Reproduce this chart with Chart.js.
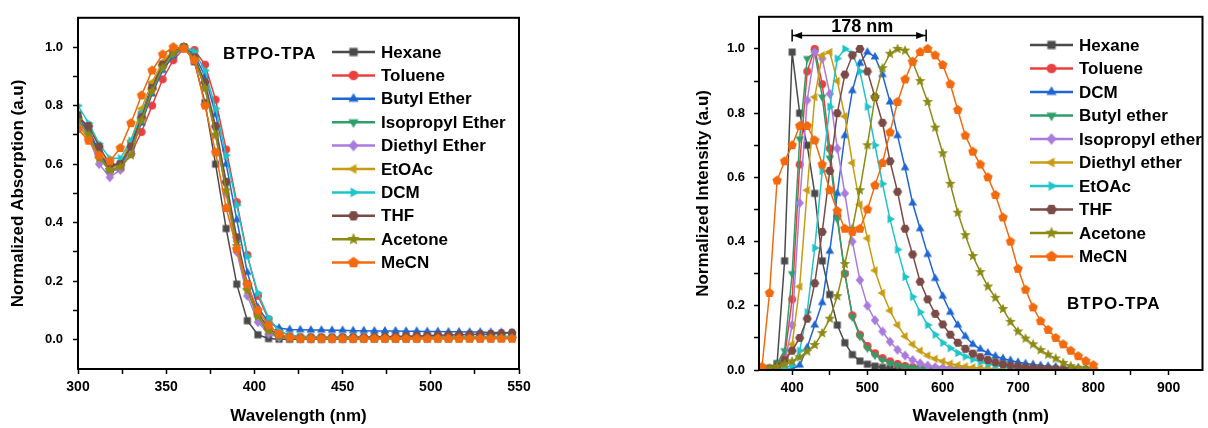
<!DOCTYPE html>
<html>
<head>
<meta charset="utf-8">
<script src="https://cdn.jsdelivr.net/npm/chart.js@4.4.1/dist/chart.umd.min.js"></script>
<style>
    html, body { margin: 0; padding: 0; background: #fff; width: 1208px; height: 428px; overflow: hidden; }
    #absBox { position: absolute; left: 0; top: 0; width: 600px; height: 428px; }
    #emBox { position: absolute; left: 600px; top: 0; width: 608px; height: 428px; }
</style>
</head>
<body>
<div id="absBox"><canvas id="absChart"></canvas></div>
<div id="emBox"><canvas id="emChart"></canvas></div>
<script>
// Absorption spectra (left panel), wavelength in nm
const absWavelengths = [300,306,312,318,324,330,336,342,348,354,360,366,372,378,384,390,396,402,408,414,420,426,432,438,444,450,456,462,468,474,480,486,492,498,504,510,516,522,528,534,540,546];
const absSolvents = ["Hexane", "Toluene", "Butyl Ether", "Isopropyl Ether", "Diethyl Ether", "EtOAc", "DCM", "THF", "Acetone", "MeCN"];
const absHexane = [0.77,0.72,0.64,0.59,0.60,0.67,0.77,0.87,0.94,0.98,1.00,0.95,0.81,0.60,0.38,0.19,0.065,0.017,0.004,0.002,0.002, 0.002,0.002,0.002,0.002,0.002,0.003,0.003,0.003,0.003,0.003,0.003,0.004,0.004,0.004,0.004,0.004,0.005,0.005,0.005,0.005,0.006];
const absToluene = [0.76,0.71,0.63,0.575,0.585,0.635,0.71,0.80,0.89,0.955,0.995,0.99,0.94,0.82,0.65,0.47,0.29,0.15,0.07,0.03,0.014, 0.010,0.010,0.009,0.009,0.009,0.008,0.008,0.008,0.008,0.008,0.008,0.008,0.008,0.008,0.008,0.008,0.009,0.009,0.009,0.010,0.010];
const absButylEther = [0.76,0.71,0.64,0.58,0.59,0.65,0.74,0.84,0.92,0.97,1.00,0.975,0.90,0.77,0.60,0.41,0.23,0.11,0.06,0.04,0.035, 0.034,0.033,0.033,0.032,0.032,0.031,0.031,0.030,0.030,0.030,0.029,0.029,0.028,0.028,0.027,0.027,0.026,0.026,0.025,0.025,0.024];
const absIsopropylEther = [0.75,0.70,0.63,0.575,0.59,0.65,0.75,0.85,0.93,0.975,1.00,0.965,0.87,0.72,0.53,0.33,0.17,0.07,0.025,0.010,0.006, 0.005,0.005,0.005,0.005,0.005,0.005,0.006,0.006,0.006,0.006,0.006,0.007,0.007,0.007,0.007,0.008,0.008,0.008,0.008,0.009,0.009];
const absDiethylEther = [0.74,0.69,0.60,0.555,0.58,0.65,0.76,0.86,0.94,0.985,1.00,0.96,0.86,0.70,0.50,0.30,0.15,0.06,0.02,0.008,0.005, 0.004,0.004,0.004,0.004,0.004,0.004,0.004,0.005,0.005,0.005,0.005,0.005,0.005,0.005,0.006,0.006,0.006,0.006,0.006,0.007,0.007];
const absEtOAc = [0.73,0.69,0.62,0.58,0.60,0.68,0.79,0.88,0.95,0.99,1.00,0.96,0.86,0.70,0.51,0.31,0.17,0.08,0.035,0.015,0.008, 0.006,0.006,0.006,0.006,0.006,0.006,0.006,0.006,0.006,0.007,0.007,0.007,0.007,0.007,0.007,0.007,0.008,0.008,0.008,0.008,0.008];
const absDCM = [0.80,0.74,0.67,0.62,0.62,0.68,0.77,0.86,0.93,0.98,1.00,0.985,0.92,0.79,0.63,0.46,0.285,0.16,0.075,0.03,0.015, 0.012,0.011,0.010,0.010,0.010,0.010,0.010,0.010,0.010,0.010,0.010,0.010,0.010,0.010,0.010,0.011,0.011,0.011,0.012,0.012,0.012];
const absTHF = [0.76,0.73,0.66,0.60,0.60,0.66,0.76,0.86,0.94,0.985,1.00,0.965,0.88,0.73,0.54,0.35,0.19,0.09,0.04,0.015,0.006, 0.005,0.005,0.006,0.006,0.007,0.008,0.008,0.009,0.010,0.011,0.012,0.013,0.014,0.015,0.016,0.017,0.018,0.019,0.020,0.022,0.024];
const absAcetone = [0.75,0.70,0.62,0.58,0.59,0.63,0.75,0.85,0.93,0.98,1.00,0.96,0.86,0.70,0.51,0.32,0.17,0.08,0.03,0.012,0.005, 0.003,0.003,0.002,0.003,0.003,0.002,0.003,0.003,0.004,0.003,0.003,0.003,0.004,0.003,0.003,0.004,0.003,0.003,0.004,0.004,0.003];
const absMeCN = [0.72,0.68,0.63,0.61,0.655,0.74,0.835,0.92,0.975,1.00,0.995,0.955,0.80,0.64,0.45,0.31,0.19,0.10,0.05,0.02,0.008, 0.004,0.004,0.004,0.004,0.004,0.004,0.004,0.004,0.004,0.004,0.004,0.004,0.004,0.004,0.004,0.004,0.004,0.004,0.004,0.004,0.004];
const absXTicks = [300,325,350,375,400,425,450,475,500,525,550];
const absYTicks = [0,0.1,0.2,0.3,0.4,0.5,0.6,0.7,0.8,0.9,1.0];

// Emission spectra (right panel)
const emWavelengths = [360,370,380,390,400,410,420,430,440,450,460,470,480,490,500,510,520,530,540,550,560,570,580,590,600,610,620,630,640,650,660,670,680,690,700,710,720,730,740,750,760,770,780,790,800];
const emSolvents = ["Hexane", "Toluene", "DCM", "Butyl ether", "Isopropyl ether", "Diethyl ether", "EtOAc", "THF", "Acetone", "MeCN"];
const emHexane = [0,0.003,0.02,0.34,0.99,0.80,0.70,0.55,0.34,0.235,0.14,0.085,0.048,0.028,0.018,0.012,0.008,0.005,0.003,0.002,0.002,0.001,0.001,0.001];
const emToluene = [0,0,0.002,0.04,0.22,0.64,0.93,1.00,0.89,0.69,0.48,0.30,0.17,0.11,0.075,0.052,0.037,0.027,0.019,0.013,0.009,0.006,0.004,0.003,0.002,0.002,0.001,0.001];
const emDCM = [0,0,0,0.002,0.004,0.015,0.07,0.14,0.21,0.37,0.55,0.73,0.87,0.955,0.99,0.975,0.92,0.835,0.73,0.63,0.52,0.44,0.36,0.285,0.23,0.18,0.14,0.105,0.08,0.065,0.053,0.043,0.036,0.03,0.024,0.02,0.017,0.014,0.012,0.01,0.008,0.006,0.005,0.004,0.003];
const emButylEther = [0,0.002,0.02,0.06,0.30,0.72,0.97,0.99,0.85,0.66,0.47,0.30,0.165,0.105,0.068,0.046,0.032,0.022,0.015,0.01,0.007,0.005,0.003,0.002,0.002,0.001,0.001,0.001];
const emIsopropylEther = [0,0,0.003,0.02,0.14,0.52,0.84,0.99,0.97,0.86,0.69,0.55,0.40,0.28,0.20,0.155,0.12,0.088,0.063,0.045,0.031,0.021,0.014,0.009,0.006,0.004,0.003,0.002,0.001,0.001,0.001];
const emDiethylEther = [0,0,0.004,0.02,0.08,0.26,0.56,0.85,0.98,0.99,0.90,0.79,0.645,0.515,0.41,0.31,0.24,0.185,0.14,0.105,0.08,0.06,0.045,0.035,0.027,0.02,0.015,0.011,0.008,0.006,0.005,0.004,0.003,0.002,0.002,0.001,0.001];
const emEtOAc = [0,0,0.002,0.006,0.015,0.06,0.18,0.38,0.62,0.82,0.97,1.00,0.985,0.93,0.82,0.70,0.58,0.47,0.375,0.29,0.228,0.18,0.14,0.11,0.085,0.068,0.053,0.042,0.033,0.025,0.019,0.014,0.01,0.007,0.005,0.004,0.003,0.002,0.002,0.001];
const emTHF = [0,0.005,0.012,0.03,0.06,0.10,0.16,0.27,0.43,0.62,0.80,0.92,0.98,1.00,0.93,0.85,0.77,0.65,0.555,0.44,0.36,0.275,0.22,0.175,0.142,0.11,0.085,0.066,0.051,0.04,0.031,0.024,0.018,0.014,0.011,0.008,0.006,0.005,0.004,0.003,0.002,0.002,0.001,0.001,0.001];
const emAcetone = [0.003,0.006,0.011,0.018,0.027,0.04,0.058,0.078,0.115,0.16,0.23,0.33,0.44,0.56,0.70,0.85,0.94,0.985,1.00,0.995,0.96,0.90,0.835,0.755,0.675,0.58,0.49,0.42,0.355,0.305,0.26,0.225,0.19,0.15,0.12,0.098,0.08,0.062,0.048,0.036,0.022,0.012,0.007,0.004,0.002];
const emMeCN = [0.01,0.24,0.59,0.65,0.70,0.76,0.76,0.715,0.64,0.56,0.495,0.44,0.43,0.44,0.50,0.575,0.645,0.74,0.835,0.905,0.96,0.99,1.00,0.98,0.95,0.89,0.81,0.73,0.68,0.64,0.60,0.545,0.475,0.40,0.315,0.25,0.195,0.152,0.125,0.10,0.08,0.06,0.043,0.028,0.015];
const emXTicks = [400,450,500,550,600,650,700,750,800,850,900];
const emYTicks = [0,0.1,0.2,0.3,0.4,0.5,0.6,0.7,0.8,0.9,1.0];

// Stokes shift marker: Hexane peak -> MeCN peak
const shiftFrom = 400;
const shiftTo = 578;
const shiftLabel = "178 nm";
const compoundName = "BTPO-TPA";

// Colores y marcadores (mismo orden en ambos paneles)
const seriesColors = ['#4a4a4a', '#e8403f', '#1f66d1', '#2e9e6a', '#a97bdc', '#c89b14', '#1ec4c8', '#7a4a46', '#8c8a14', '#f36a0e'];
const seriesShapes = ['square', 'circle', 'up', 'down', 'diamond', 'left', 'right', 'hexagon', 'star', 'pentagon'];

const FONT = '"Liberation Sans", Arial, sans-serif';

// Dibuja un marcador en un canvas pequeño para usarlo como pointStyle
function makeMarker(shape, color) {
    const c = document.createElement('canvas');
    c.width = 12; c.height = 12;
    const g = c.getContext('2d');
    const cx = 6, cy = 6;
    g.fillStyle = color;
    g.beginPath();
    if (shape === 'circle') {
        g.arc(cx, cy, 4, 0, Math.PI * 2);
    } else {
        let n, r = 5, start = -Math.PI / 2, inner = null, sx = 1;
        if (shape === 'square') { n = 4; start = Math.PI / 4; }
        else if (shape === 'up') { n = 3; }
        else if (shape === 'down') { n = 3; start = Math.PI / 2; }
        else if (shape === 'left') { n = 3; start = Math.PI; }
        else if (shape === 'right') { n = 3; start = 0; }
        else if (shape === 'diamond') { n = 4; sx = 0.85; }
        else if (shape === 'hexagon') { n = 6; r = 4.6; start = 0; }
        else if (shape === 'pentagon') { n = 5; r = 5; }
        else if (shape === 'star') { n = 10; r = 5.6; inner = 2.4; }
        for (let k = 0; k < n; k++) {
            const a = start + k * 2 * Math.PI / n;
            const rr = (inner !== null && k % 2 === 1) ? inner : r;
            const px = cx + Math.cos(a) * rr * sx, py = cy + Math.sin(a) * rr;
            if (k === 0) g.moveTo(px, py); else g.lineTo(px, py);
        }
        g.closePath();
    }
    g.fill();
    return c;
}

function buildDatasets(names, xs, seriesList) {
    return names.map((name, i) => ({
        label: name,
        data: seriesList[i].map((v, j) => ({ x: xs[j], y: v })),
        borderColor: seriesColors[i],
        backgroundColor: seriesColors[i],
        borderWidth: 1.5,
        pointStyle: makeMarker(seriesShapes[i], seriesColors[i]),
        pointRadius: 4,
        tension: 0,
        order: 10 - i
    }));
}

// Marco negro alrededor del área del gráfico
const framePlugin = {
    id: 'frame',
    afterDatasetsDraw(chart) {
        const a = chart.chartArea, ctx = chart.ctx;
        ctx.save();
        ctx.strokeStyle = '#000';
        ctx.lineWidth = 2;
        ctx.strokeRect(a.left, a.top, a.right - a.left, a.bottom - a.top);
        ctx.restore();
    }
};

// Leyenda dibujada dentro del área del gráfico
function legendPlugin(x0, y0, rowH) {
    return {
        id: 'solventLegend',
        afterDraw(chart) {
            const ctx = chart.ctx;
            ctx.save();
            ctx.font = 'bold 17px ' + FONT;
            ctx.textBaseline = 'middle';
            chart.data.datasets.forEach((ds, i) => {
                const y = y0 + i * rowH;
                ctx.strokeStyle = ds.borderColor;
                ctx.lineWidth = 2.5;
                ctx.beginPath();
                ctx.moveTo(x0, y);
                ctx.lineTo(x0 + 43, y);
                ctx.stroke();
                const img = ds.pointStyle;
                ctx.drawImage(img, x0 + 21.5 - 7, y - 7, 14, 14);
                ctx.fillStyle = '#000';
                ctx.fillText(ds.label, x0 + 49, y + 1);
            });
            ctx.restore();
        }
    };
}

function namePlugin(x, y) {
    return {
        id: 'compoundName',
        afterDraw(chart) {
            const ctx = chart.ctx;
            ctx.save();
            ctx.font = 'bold 17px ' + FONT;
            ctx.letterSpacing = '1px';
            ctx.fillStyle = '#000';
            ctx.textBaseline = 'middle';
            ctx.fillText(compoundName, x, y);
            ctx.restore();
        }
    };
}

// Flecha de desplazamiento de Stokes
const shiftPlugin = {
    id: 'shiftArrow',
    afterDraw(chart) {
        const xs = chart.scales.x, ys = chart.scales.y, ctx = chart.ctx;
        const x1 = xs.getPixelForValue(shiftFrom), x2 = xs.getPixelForValue(shiftTo);
        const y = ys.getPixelForValue(1.042);
        ctx.save();
        ctx.strokeStyle = '#000';
        ctx.fillStyle = '#000';
        ctx.lineWidth = 1.5;
        ctx.beginPath();
        ctx.moveTo(x1, y); ctx.lineTo(x2, y);
        ctx.moveTo(x1, y - 6); ctx.lineTo(x1, y + 6);
        ctx.moveTo(x2, y - 6); ctx.lineTo(x2, y + 6);
        ctx.stroke();
        ctx.beginPath();
        ctx.moveTo(x1 + 1, y); ctx.lineTo(x1 + 10, y - 3.5); ctx.lineTo(x1 + 10, y + 3.5); ctx.closePath();
        ctx.moveTo(x2 - 1, y); ctx.lineTo(x2 - 10, y - 3.5); ctx.lineTo(x2 - 10, y + 3.5); ctx.closePath();
        ctx.fill();
        ctx.font = 'bold 18px ' + FONT;
        ctx.textAlign = 'center';
        ctx.textBaseline = 'middle';
        ctx.fillText(shiftLabel, (x1 + x2) / 2 + 3, y - 8);
        ctx.restore();
    }
};

function isMultiple(v, step) {
    return Math.abs(v / step - Math.round(v / step)) < 1e-6;
}

function axisOptions(cfg) {
    return {
        type: 'linear',
        min: cfg.min,
        max: cfg.max,
        afterBuildTicks: scale => { scale.ticks = cfg.ticks.map(v => ({ value: v })); },
        afterFit: scale => {
            if (cfg.width) scale.width = cfg.width;
            if (cfg.height) scale.height = cfg.height;
        },
        grid: { display: true, drawOnChartArea: false, drawTicks: true, tickLength: 5, tickWidth: 1.5, tickColor: '#000' },
        border: { display: false },
        ticks: {
            autoSkip: false,
            maxRotation: 0,
            padding: cfg.pad,
            color: '#000',
            font: { family: FONT, weight: 'bold', size: cfg.fontSize },
            callback: v => isMultiple(v, cfg.major) ? (cfg.decimals ? v.toFixed(1) : String(v)) : ''
        },
        title: {
            display: true,
            text: cfg.title,
            color: '#000',
            font: { family: FONT, weight: 'bold', size: 17 },
            padding: cfg.titlePad
        }
    };
}

function makeChart(id, datasets, opts, plugins) {
    return new Chart(document.getElementById(id), {
        type: 'line',
        data: { datasets: datasets },
        options: {
            responsive: true,
            maintainAspectRatio: false,
            animation: false,
            devicePixelRatio: 1,
            events: [],
            layout: { padding: opts.padding },
            plugins: { legend: { display: false }, tooltip: { enabled: false } },
            scales: { x: opts.x, y: opts.y }
        },
        plugins: plugins
    });
}

// Panel izquierdo: absorción
makeChart('absChart',
    buildDatasets(absSolvents, absWavelengths,
        [absHexane, absToluene, absButylEther, absIsopropylEther, absDiethylEther, absEtOAc, absDCM, absTHF, absAcetone, absMeCN]),
    {
        padding: { left: 0, top: 14, right: 81, bottom: 0 },
        x: axisOptions({ min: 300, max: 550, ticks: absXTicks, major: 50, pad: 5, fontSize: 14, height: 59,
            title: 'Wavelength (nm)', titlePad: { top: 0, bottom: 1 } }),
        y: axisOptions({ min: -0.1, max: 1.1, ticks: absYTicks, major: 0.2, decimals: true, pad: 10, fontSize: 13, width: 78,
            title: 'Normalized Absorption (a.u)', titlePad: { top: 8, bottom: 0 } })
    },
    [framePlugin, legendPlugin(332, 52, 23.4), namePlugin(223, 54)]
);

// Panel derecho: emisión
makeChart('emChart',
    buildDatasets(emSolvents, emWavelengths,
        [emHexane, emToluene, emDCM, emButylEther, emIsopropylEther, emDiethylEther, emEtOAc, emTHF, emAcetone, emMeCN]),
    {
        padding: { left: 93, top: 14, right: 5, bottom: 0 },
        x: axisOptions({ min: 356, max: 945, ticks: emXTicks, major: 100, pad: 5, fontSize: 14, height: 58,
            title: 'Wavelength (nm)', titlePad: { top: 0, bottom: 1 } }),
        y: axisOptions({ min: 0, max: 1.1, ticks: emYTicks, major: 0.2, decimals: true, pad: 9, fontSize: 13, width: 66,
            title: 'Normalized Intensity (a.u)', titlePad: { top: 0, bottom: 0 } })
    },
    [framePlugin, legendPlugin(430, 45, 23.5), namePlugin(467, 304), shiftPlugin]
);
</script>
</body>
</html>
